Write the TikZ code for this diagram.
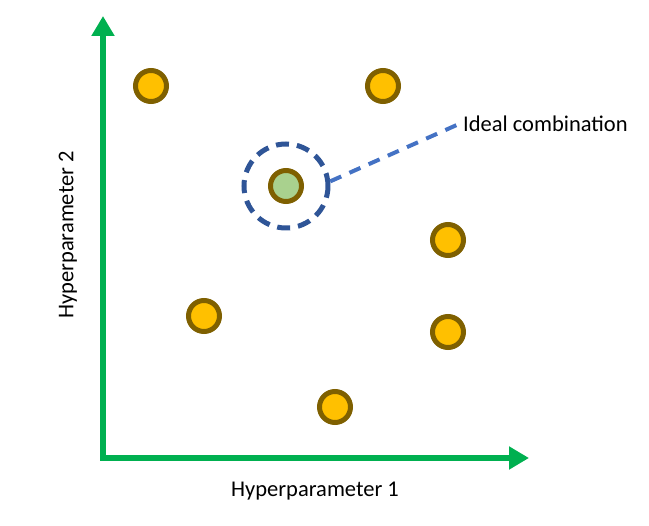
\documentclass[tikz,border=0pt]{standalone}
\usepackage{fontspec}
\setmainfont{Carlito}
\usetikzlibrary{arrows.meta}
\definecolor{axisgreen}{RGB}{0,176,80}
\definecolor{gold}{RGB}{255,192,0}
\definecolor{olive}{RGB}{127,96,0}
\definecolor{lightgreen}{RGB}{169,209,142}
\definecolor{darkblue}{RGB}{47,85,151}
\definecolor{midblue}{RGB}{68,114,196}
\tikzset{
  axis/.style={line width=6pt, draw=axisgreen, -{Triangle[length=20pt,width=22pt]}},
  dot/.style={circle, draw=olive, line width=5pt, fill=gold, minimum size=31pt, inner sep=0pt},
  bestdot/.style={dot, fill=lightgreen},
  ring/.style={circle, draw=darkblue, line width=5pt, dash pattern=on 13pt off 8pt, minimum size=84pt, inner sep=0pt},
  leader/.style={draw=midblue, line width=4pt, dash pattern=on 12pt off 9pt},
  lbl/.style={font=\fontsize{22.5}{26}\selectfont, inner sep=0pt}
}
\begin{document}
\begin{tikzpicture}[x=1pt,y=-1pt]
\useasboundingbox (0,0) rectangle (649,526);
\coordinate (o) at (103,458);
\coordinate (ytip) at (103,16);
\coordinate (xtip) at (529,458);
\draw[axis] ([yshift=-3pt]o) -- (ytip);
\draw[axis] ([xshift=-3pt]o) -- (xtip);
\node[lbl] (xl) at (315,491) {Hyperparameter 1};
\node[lbl, rotate=90] (yl) at (68,235) {Hyperparameter 2};
\node[dot] (p1) at (151,86) {};
\node[dot] (p2) at (383,86) {};
\node[dot] (p3) at (448,240) {};
\node[dot] (p4) at (204,316) {};
\node[dot] (p5) at (448,332) {};
\node[dot] (p6) at (335,407) {};
\node[bestdot] (best) at (286,186) {};
\node[ring] (ring) at (286,186) {};
\node[lbl, anchor=west] (ideal) at (463,124) {Ideal combination};
\draw[leader] (ring.6) -- ([xshift=-4pt]ideal.west);
\end{tikzpicture}
\end{document}
